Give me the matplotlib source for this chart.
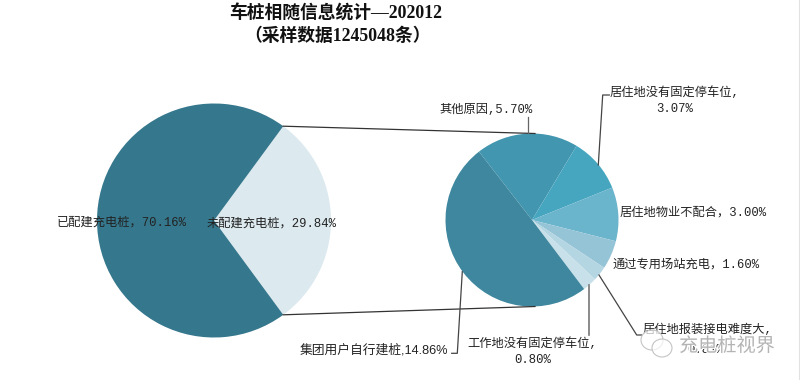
import matplotlib
matplotlib.use("Agg")
import matplotlib.pyplot as plt
import matplotlib.patheffects as pe
from matplotlib.patches import Ellipse
import numpy as np

# left pie
main_labels = ['已配建充电桩，70.16%', '未配建充电桩，29.84%']
main_values = [70.16, 29.84]
main_colors = ['#35778c', '#dce9ef']

# right pie, breakdown of the 29.84%
detail_names = ['其他原因', '居住地没有固定停车位', '居住地物业不配合', '通过专用场站充电',
                '居住地报装接电难度大', '工作地没有固定停车位', '集团用户自行建桩']
detail_values = [5.70, 3.07, 3.00, 1.60, 0.81, 0.80, 14.86]
detail_colors = ['#4296af', '#46a6c0', '#6ab4cc', '#96c4d7', '#b4d5e2', '#c8e0e9', '#3e879f']

label_font = ['Liberation Mono', 'Noto Sans CJK SC']
title_font = ['Liberation Serif', 'Noto Sans CJK SC']

H = 380


def px(x, y):
    # picture pixels to axes coords (y runs up in the axes)
    return x, H - y


fig = plt.figure(figsize=(8, 3.8), dpi=100)
ax = fig.add_axes([0, 0, 1, 1])

left_c = (214, 220.5)
left_r = 117
right_c = (532, 220)
right_r = 86.5

half_angle = main_values[1] / 100 * 360 / 2
ax.pie(main_values[::-1], colors=main_colors[::-1], startangle=-half_angle,
       center=px(*left_c), radius=left_r, frame=True)

# first slice starts at 127.8 deg and goes clockwise
ax.pie(detail_values, colors=detail_colors, startangle=127.8, counterclock=False,
       center=px(*right_c), radius=right_r, frame=True)

ax.set_xlim(0, 800)
ax.set_ylim(0, H)
ax.set_aspect('equal')
ax.axis('off')

# connectors between the two pies
dx = left_r * np.cos(np.radians(half_angle))
dy = left_r * np.sin(np.radians(half_angle))
for sign in [-1, 1]:
    x0, y0 = px(left_c[0] + dx, left_c[1] + sign * dy)
    x1, y1 = px(right_c[0] + 3, right_c[1] + sign * right_r)
    ax.plot([x0, x1], [y0, y1], color='#333333', lw=0.9, zorder=4)


def leader(points, color='#444444', lw=0.9):
    xs, ys = zip(*[px(*p) for p in points])
    ax.plot(xs, ys, color=color, lw=lw, zorder=4)


leader([(528.3, 133.3), (528.3, 116.7)], '#666666')
leader([(598.3, 165), (602.7, 95), (609.3, 95)])
leader([(462.3, 271.7), (457.3, 353.3), (451.7, 353.3)])
leader([(589, 285), (589, 335)], '#777777', 1.2)
leader([(599, 275), (636.7, 335), (641.7, 335)])


def label(x, y, s, ha='left', family=label_font, size=8.8):
    ax.text(*px(x, y + 1), s, ha=ha, va='center', fontsize=size, color='#222222',
            family=family, zorder=5)


label(57, 222, main_labels[0])
label(207, 223, main_labels[1])
label(485.8, 109, f'{detail_names[0]},{detail_values[0]:.2f}%', 'center')
label(675, 92, f'{detail_names[1]},', 'center')
label(675, 108, f'{detail_values[1]:.2f}%', 'center')
label(620, 212, f'{detail_names[2]}，{detail_values[2]:.2f}%')
label(613, 264, f'{detail_names[3]}，{detail_values[3]:.2f}%')
label(643, 329, f'{detail_names[4]},')
label(706, 349, f'{detail_values[4]:.2f}%', 'center')
label(532.5, 343, f'{detail_names[5]},', 'center')
label(532.5, 359, f'{detail_values[5]:.2f}%', 'center')
label(448, 349, f'{detail_names[6]},{detail_values[6]:.2f}%', 'right',
      ['Liberation Sans', 'Noto Sans CJK SC'], 9.2)

# title
ax.text(*px(336, 14), '车桩相随信息统计—202012', ha='center', va='center',
        fontsize=12.8, fontweight='bold', family=title_font, color='#111111')
ax.text(*px(337, 36), '（采样数据1245048条）', ha='center', va='center',
        fontsize=12.8, fontweight='bold', family=title_font, color='#111111')

# watermark, laid over the last label
ax.text(*px(679, 346), '充电桩视界', ha='left', va='center', fontsize=13.8,
        color='#b4b4b4', family='Noto Sans CJK SC', zorder=6,
        path_effects=[pe.withStroke(linewidth=1.5, foreground='white')])
for x, y, w, h in [(652, 340, 22, 20), (662, 348, 20, 18)]:
    ax.add_patch(Ellipse(px(x, y), w, h, fc=(1, 1, 1, 0.7), ec='#c4c4c4', lw=0.8, zorder=6))

# thin grey edge on the right of the picture
ax.plot([798.5, 798.5], [0, H], color='#e2e2e2', lw=0.8)

fig.savefig('out.png', dpi=100)
